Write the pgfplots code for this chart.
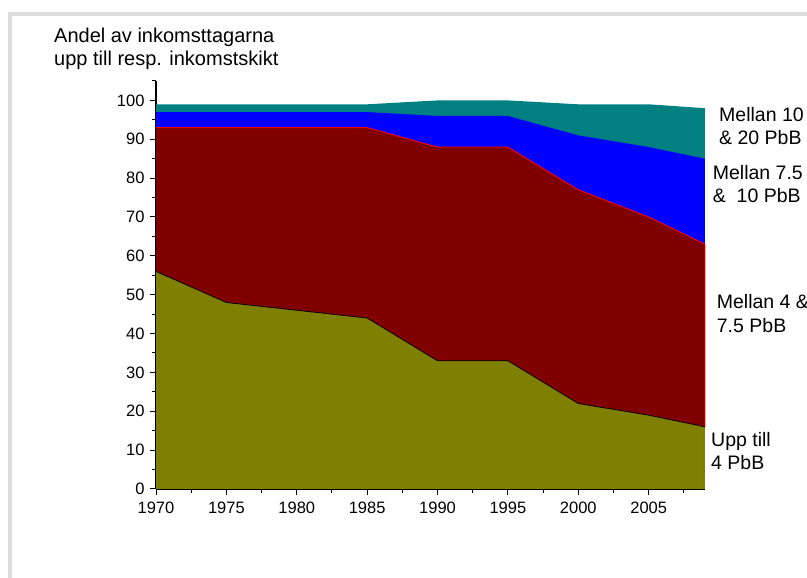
\documentclass[border=0pt]{standalone}
\usepackage{fontspec}
\setmainfont{Liberation Sans}
\usepackage{pgfplots}
\pgfplotsset{compat=1.18}
\definecolor{myolive}{RGB}{128,128,0}
\definecolor{mymaroon}{RGB}{128,0,0}
\definecolor{myblue}{RGB}{0,0,255}
\definecolor{myteal}{RGB}{0,128,128}
\definecolor{framegray}{RGB}{220,220,220}
\begin{document}
\begin{tikzpicture}[x=1pt,y=1pt]
\useasboundingbox (0,0) rectangle (807,578);
\fill[framegray] (8,0) rectangle (12,566);
\fill[framegray] (8,562) rectangle (807,566);
\begin{axis}[
  at={(156pt,89pt)}, anchor=south west,
  scale only axis, width=549pt, height=408pt,
  xmin=1970, xmax=2009, ymin=0, ymax=105,
  axis x line*=bottom, axis y line*=left,
  axis line style={-, line width=1.1pt, black},
  clip=false,
  xtick={1970,1975,...,2005},
  minor xtick={1972.5,1977.5,...,2007.5},
  ytick={0,10,...,100},
  minor ytick={5,15,...,105},
  tick align=outside,
  major tick length=6pt, minor tick length=4pt,
  every tick/.style={black, line width=1pt},
  /pgf/number format/assume math mode=true,
  /pgf/number format/1000 sep={},
  tick label style={font=\fontsize{16.5}{19}\selectfont},
  xticklabel shift=3pt,
  yticklabel shift=2pt,
]
\addplot[fill=myteal, draw=none] coordinates {(1970,99)(1975,99)(1980,99)(1985,99)(1990,100)(1995,100)(2000,99)(2005,99)(2009,98)} \closedcycle;
\addplot[fill=myblue, draw=none] coordinates {(1970,97)(1975,97)(1980,97)(1985,97)(1990,96)(1995,96)(2000,91)(2005,88)(2009,85)} \closedcycle;
\addplot[fill=mymaroon, draw=none] coordinates {(1970,93)(1975,93)(1980,93)(1985,93)(1990,88)(1995,88)(2000,77)(2005,70)(2009,63)} \closedcycle;
\addplot[red, line width=0.9pt] coordinates {(1970,93)(1975,93)(1980,93)(1985,93)(1990,88)(1995,88)(2000,77)(2005,70)(2009,63)(2009,16)};
\addplot[fill=myolive, draw=none] coordinates {(1970,56)(1975,48)(1980,46)(1985,44)(1990,33)(1995,33)(2000,22)(2005,19)(2009,16)} \closedcycle;
\addplot[black, line width=0.8pt] coordinates {(1970,56)(1975,48)(1980,46)(1985,44)(1990,33)(1995,33)(2000,22)(2005,19)(2009,16)};
\end{axis}
\begin{scope}[every node/.style={anchor=base west, inner sep=0pt, font=\fontsize{19.5}{23}\selectfont}]
\node[font=\fontsize{20}{24}\selectfont] at (54,535.7) {Andel av inkomsttagarna};
\node[font=\fontsize{20}{24}\selectfont] at (54,512.3) {upp till resp. inkomstskikt};
\node at (719,456.3) {Mellan 10};
\node at (719,433) {\& 20 PbB};
\node at (712.7,398) {Mellan 7.5};
\node at (712.7,375) {\&\ \ 10 PbB};
\node at (716.7,269) {Mellan 4 \&};
\node at (716.7,245) {7.5 PbB};
\node at (711,131) {Upp till};
\node at (711,108) {4 PbB};
\end{scope}
\end{tikzpicture}
\end{document}
